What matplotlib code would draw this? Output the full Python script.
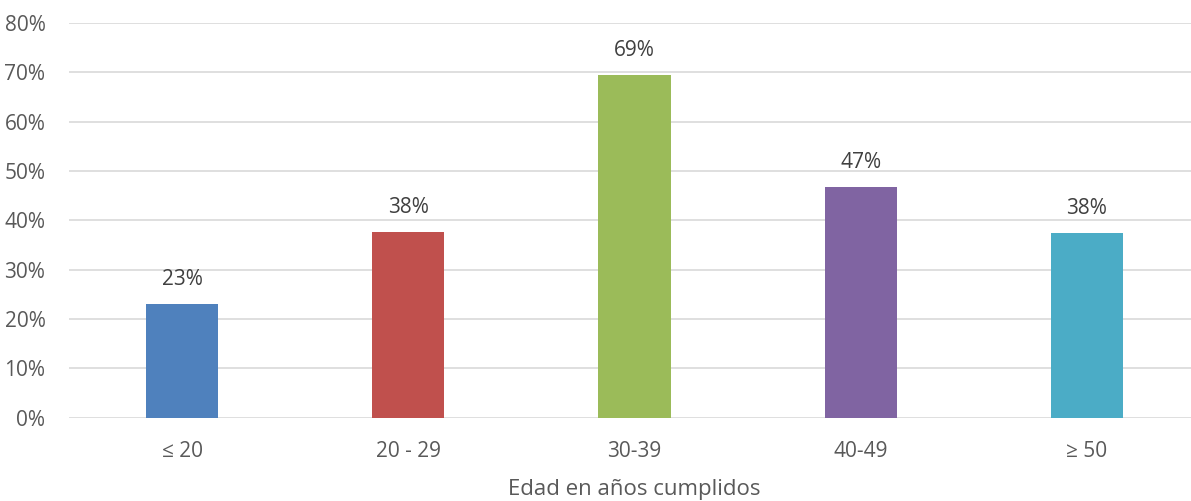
import matplotlib.pyplot as plt
from matplotlib.ticker import FuncFormatter

categories = ['≤ 20', '20 - 29', '30-39', '40-49', '≥ 50']
values = [23.1, 37.7, 69.4, 46.8, 37.5]
labels = ['23%', '38%', '69%', '47%', '38%']
colors = ['#4f81bd', '#c0504d', '#9bbb59', '#8064a2', '#4bacc6']

plt.rcParams['font.family'] = ['Open Sans', 'DejaVu Sans']
txt = '#595959'

fig = plt.figure(figsize=(11.91, 5.01), dpi=100)
ax = fig.add_axes([69/1191, 83.5/501, 1131/1191, 394.5/501])

x = range(len(categories))
bars = ax.bar(x, values, width=0.32, color=colors, zorder=3)
for b, lab in zip(bars, labels):
    ax.annotate(lab, (b.get_x() + b.get_width()/2, b.get_height()),
                xytext=(0, 14), textcoords='offset pixels',
                ha='center', va='bottom', fontsize=15, color='#404040')

ax.set_xlim(-0.5, len(categories) - 0.5)
ax.set_ylim(0, 80)
ax.set_yticks(range(0, 81, 10))
ax.yaxis.set_major_formatter(FuncFormatter(lambda v, p: f'{int(v)}%'))
ax.grid(axis='y', color='#d9d9d9', linewidth=1.2, zorder=0)
for s in ax.spines.values():
    s.set_visible(False)
ax.tick_params(axis='both', length=0, labelsize=15, labelcolor=txt)
ax.tick_params(axis='y', pad=17)
ax.tick_params(axis='x', pad=17)
ax.set_xticks(list(x))
ax.set_xticklabels(categories)
ax.set_xlabel('Edad en años cumplidos', fontsize=16, color=txt, labelpad=12)

fig.savefig('out.png', dpi=100)
